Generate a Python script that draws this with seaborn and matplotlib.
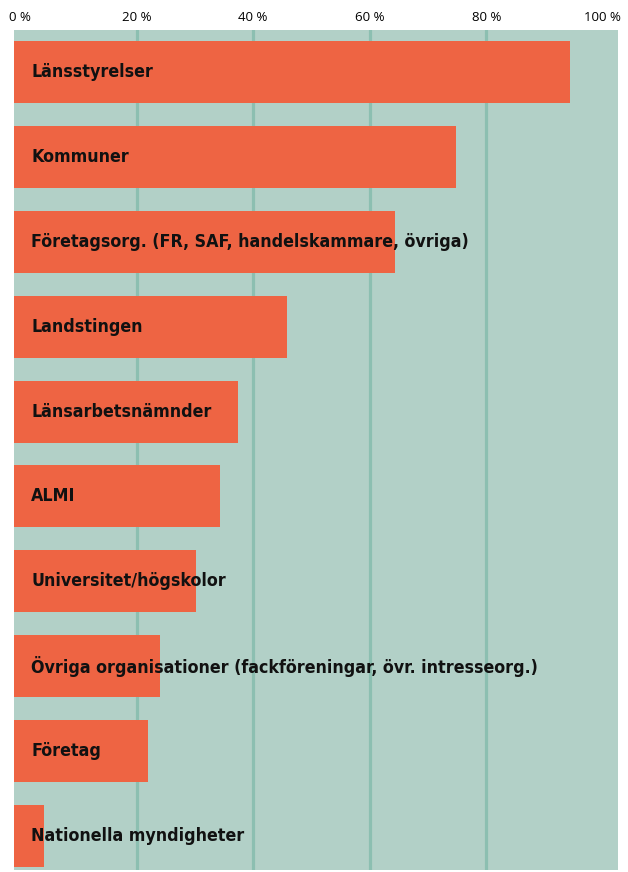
import numpy as np
import pandas as pd
import seaborn as sns
from matplotlib import pyplot as plt

# data (share in %)
categories = [
    "Länsstyrelser",
    "Kommuner",
    "Företagsorg. (FR, SAF, handelskammare, övriga)",
    "Landstingen",
    "Länsarbetsnämnder",
    "ALMI",
    "Universitet/högskolor",
    "Övriga organisationer (fackföreningar, övr. intresseorg.)",
    "Företag",
    "Nationella myndigheter",
]
values = [94.3, 74.8, 64.3, 45.8, 37.4, 34.3, 30.2, 24.0, 21.9, 4.2]
ticks = [0, 20, 40, 60, 80, 100]
tick_labels = [f"{t} %" for t in ticks]

df = pd.DataFrame({"kategori": categories, "andel": values})

BG = "#b2d0c7"
GRID = "#8cbfb1"
BAR = "#ee6443"

sns.set_style("white")
plt.rcParams["font.family"] = ["DejaVu Sans"]

fig = plt.figure(figsize=(6.28, 8.72), dpi=100)
ax = fig.add_axes([14 / 628, 2 / 872, 604 / 628, 840 / 872])
ax.set_facecolor(BG)

sns.barplot(df, x="andel", y="kategori", orient="h", color=BAR,
            saturation=1, width=0.73, linewidth=0, ax=ax, zorder=3)

xmin, xmax = -1.03, 102.6
ax.set_xlim(xmin, xmax)
ax.set_ylim(9.40, -0.495)

# bars start at the left edge of the panel
for p in ax.patches:
    w = p.get_width()
    p.set_x(xmin)
    p.set_width(w - xmin)
    p.set_linewidth(0)

ax.set_xticks(ticks)
ax.set_xticklabels(tick_labels, family=["Open Sans", "DejaVu Sans"],
                   fontsize=9.5, color="black")
ax.xaxis.tick_top()
ax.tick_params(axis="x", length=0, pad=4)
ax.set_yticks([])
ax.set_xlabel("")
ax.set_ylabel("")
for s in ax.spines.values():
    s.set_visible(False)

ax.grid(axis="x", color=GRID, lw=2.3, zorder=1)
ax.set_axisbelow(True)
gl = ax.get_xgridlines()
gl[0].set_visible(False)
gl[-1].set_visible(False)

for i, name in enumerate(categories):
    ax.annotate(name, xy=(0, i), xycoords=("axes fraction", "data"),
                xytext=(12.5, 0), textcoords="offset points",
                ha="left", va="center", fontsize=12.8, fontweight="bold",
                fontstretch="condensed", family="DejaVu Sans",
                color="#111111", zorder=5)

plt.savefig("out.png", dpi=100)
